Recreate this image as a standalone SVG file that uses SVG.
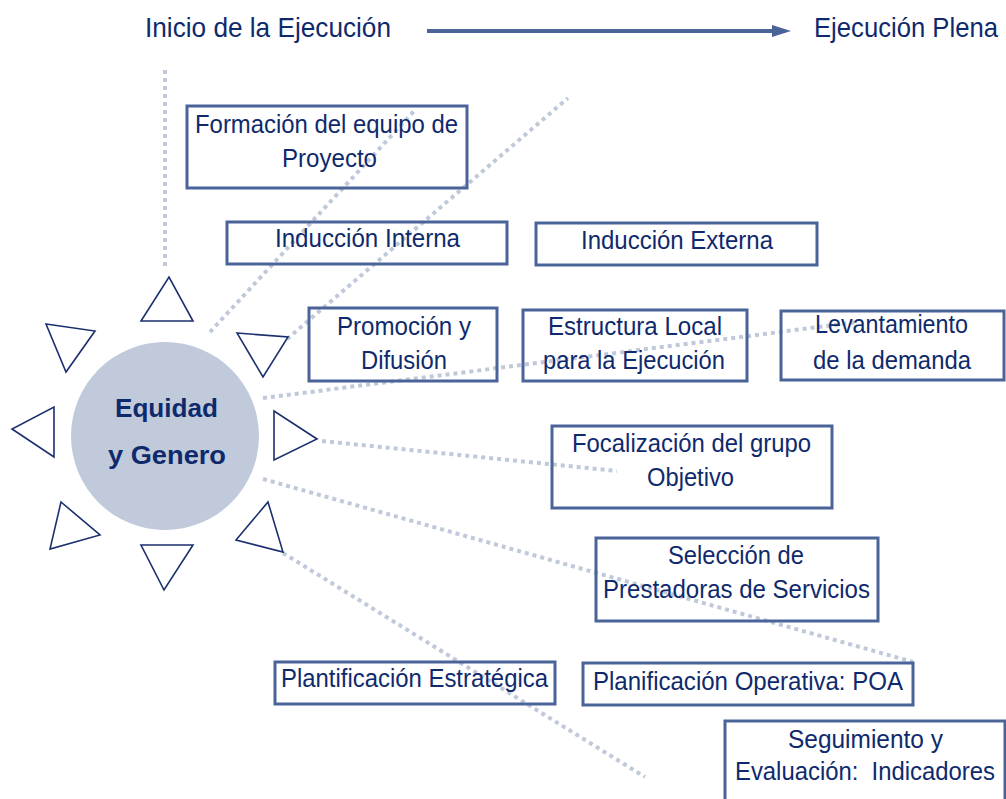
<svg xmlns="http://www.w3.org/2000/svg" width="1006" height="799" viewBox="0 0 1006 799">
<style>
.t{font-family:"Liberation Sans Narrow","Liberation Sans",Arial,sans-serif;font-size:26px;fill:#0f2a6c}
.h{font-family:"Liberation Sans Narrow","Liberation Sans",Arial,sans-serif;font-size:28px;fill:#0f2a6c}
.b{fill:#fff;stroke:#4a6399;stroke-width:3}
.tri{fill:#fff;stroke:#1b2f6e;stroke-width:1.6;stroke-linejoin:miter}
.dot{fill:none;stroke:#c0c9da;stroke-width:4;stroke-dasharray:4 4}
.c{font-family:"Liberation Sans",Arial,sans-serif;font-size:25px;font-weight:bold;fill:#0f2a6c}
</style>
<rect width="1006" height="799" fill="#fff"/>
<g id="header">
<text class="h" x="145" y="37" textLength="246" lengthAdjust="spacingAndGlyphs">Inicio de la Ejecución</text>
<line x1="427" y1="31" x2="774" y2="31" stroke="#4a6399" stroke-width="4"/>
<polygon points="772,25 791,31 772,37" fill="#4a6399"/>
<text class="h" x="814" y="37" textLength="184" lengthAdjust="spacingAndGlyphs">Ejecución Plena</text>
</g>
<g id="connectors">
<line class="dot" x1="165" y1="70" x2="165" y2="270"/>
<line class="dot" x1="210" y1="332" x2="416" y2="109"/>
<line class="dot" x1="287" y1="339" x2="568" y2="98"/>
<line class="dot" x1="263" y1="398" x2="858" y2="322"/>
<line class="dot" x1="322" y1="441" x2="617" y2="471"/>
<line class="dot" x1="263" y1="479" x2="913" y2="662"/>
<line class="dot" x1="283" y1="553" x2="645" y2="777"/>
</g>
<g id="sun">
<circle cx="165" cy="436" r="94" fill="#c0cadb"/>
<text class="c" x="115" y="417" textLength="103" lengthAdjust="spacingAndGlyphs">Equidad</text>
<text class="c" x="108" y="464" textLength="118" lengthAdjust="spacingAndGlyphs">y Genero</text>
<polygon class="tri" points="141,321 193,321 169,277"/>
<polygon class="tri" points="46,324 95,331 66,372"/>
<polygon class="tri" points="54,407 54,457 12,429"/>
<polygon class="tri" points="61,502 100,535 50,549"/>
<polygon class="tri" points="141,545 193,545 164,590"/>
<polygon class="tri" points="268,502 283,552 236,540"/>
<polygon class="tri" points="274,411 274,460 317,439"/>
<polygon class="tri" points="237,333 288,337 263,377"/>
</g>
<g id="formacion">
<rect class="b" x="187" y="106" width="280" height="82" fill-opacity="0"/>
<text class="t" x="195" y="133" textLength="263" lengthAdjust="spacingAndGlyphs">Formación del equipo de</text>
<text class="t" x="282" y="167" textLength="95" lengthAdjust="spacingAndGlyphs">Proyecto</text>
</g>
<g id="induccion-interna">
<rect class="b" x="227" y="222" width="280" height="42" fill-opacity="0"/>
<text class="t" x="275" y="247" textLength="185" lengthAdjust="spacingAndGlyphs">Inducción Interna</text>
</g>
<g id="induccion-externa">
<rect class="b" x="536" y="223" width="281" height="42"/>
<text class="t" x="581" y="249" textLength="192" lengthAdjust="spacingAndGlyphs">Inducción Externa</text>
</g>
<g id="promocion">
<rect class="b" x="309" y="308" width="188" height="73" fill-opacity="0"/>
<text class="t" x="337" y="335" textLength="134" lengthAdjust="spacingAndGlyphs">Promoción y</text>
<text class="t" x="361" y="369" textLength="86" lengthAdjust="spacingAndGlyphs">Difusión</text>
</g>
<g id="estructura">
<rect class="b" x="523" y="310" width="224" height="71" fill-opacity="0"/>
<text class="t" x="548" y="335" textLength="174" lengthAdjust="spacingAndGlyphs">Estructura Local</text>
<text class="t" x="543" y="369" textLength="182" lengthAdjust="spacingAndGlyphs">para la Ejecución</text>
</g>
<g id="levantamiento">
<rect class="b" x="781" y="311" width="223" height="69" fill-opacity="0"/>
<text class="t" x="815" y="333" textLength="153" lengthAdjust="spacingAndGlyphs">Levantamiento</text>
<text class="t" x="813" y="369" textLength="158" lengthAdjust="spacingAndGlyphs">de la demanda</text>
</g>
<g id="focalizacion">
<rect class="b" x="552" y="426" width="280" height="82" fill-opacity="0"/>
<text class="t" x="572" y="452" textLength="239" lengthAdjust="spacingAndGlyphs">Focalización del grupo</text>
<text class="t" x="647" y="486" textLength="87" lengthAdjust="spacingAndGlyphs">Objetivo</text>
</g>
<g id="seleccion">
<rect class="b" x="596" y="538" width="282" height="83" fill-opacity="0"/>
<text class="t" x="668" y="564" textLength="136" lengthAdjust="spacingAndGlyphs">Selección de</text>
<text class="t" x="603" y="598" textLength="267" lengthAdjust="spacingAndGlyphs">Prestadoras de Servicios</text>
</g>
<g id="plan-estrategica">
<rect class="b" x="275" y="662" width="280" height="42" fill-opacity="0"/>
<text class="t" x="281" y="687" textLength="267" lengthAdjust="spacingAndGlyphs">Plantificación Estratégica</text>
</g>
<g id="plan-operativa">
<rect class="b" x="583" y="663" width="330" height="42" fill-opacity="0"/>
<text class="t" x="593" y="690" textLength="310" lengthAdjust="spacingAndGlyphs">Planificación Operativa: POA</text>
</g>
<g id="seguimiento">
<rect class="b" x="725" y="721" width="280" height="90"/>
<text class="t" x="788" y="748" textLength="155" lengthAdjust="spacingAndGlyphs">Seguimiento y</text>
<text class="t" x="735" y="780" textLength="260" lengthAdjust="spacingAndGlyphs" xml:space="preserve">Evaluación:  Indicadores</text>
</g>
</svg>
